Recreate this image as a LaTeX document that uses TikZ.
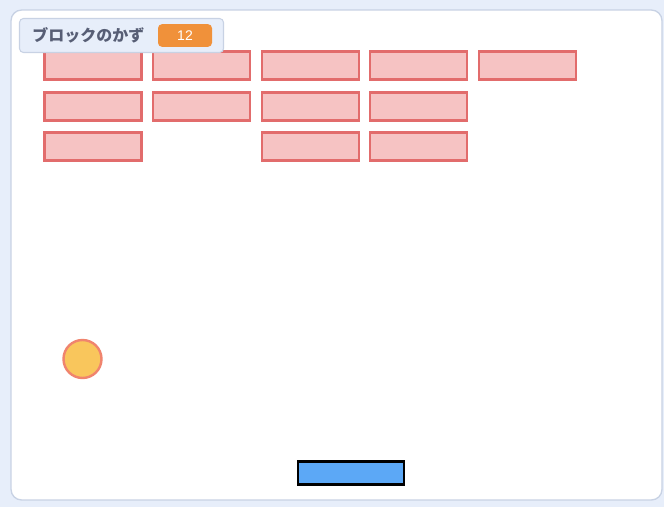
\documentclass[tikz,border=0pt]{standalone}
\usepackage{fontspec}
\setmainfont{Liberation Sans}
\newfontfamily\jpfont{Noto Sans CJK JP}
\usepackage{tikz}
\usetikzlibrary{positioning,calc}
\definecolor{stagebg}{RGB}{231,238,250}
\definecolor{stageline}{RGB}{200,210,228}
\definecolor{brickfill}{RGB}{246,195,195}
\definecolor{brickline}{RGB}{226,108,108}
\definecolor{ballfill}{RGB}{249,198,92}
\definecolor{ballline}{RGB}{240,132,110}
\definecolor{paddlefill}{RGB}{92,168,246}
\definecolor{badge}{RGB}{240,145,58}
\definecolor{labeltext}{RGB}{87,94,117}

\begin{document}
\begin{tikzpicture}[
    x=0.75pt, y=-0.75pt,
    brick/.style={rectangle, draw=brickline, fill=brickfill, line width=1.8pt,
                  minimum width=72.5pt, minimum height=21.2pt, inner sep=0pt},
    ball/.style={circle, draw=ballline, fill=ballfill, line width=1.8pt,
                 minimum size=28.5pt, inner sep=0pt},
    paddle/.style={rectangle, draw=black, fill=paddlefill, line width=1.8pt,
                   minimum width=79.5pt, minimum height=17pt, inner sep=0pt},
    monitor/.style={rectangle, rounded corners=3pt, draw=stageline, fill=stagebg,
                    line width=0.8pt, minimum width=153pt, minimum height=25.5pt},
    counter/.style={rectangle, rounded corners=3pt, fill=badge, text=white,
                    minimum width=40.5pt, minimum height=17pt, inner sep=0pt, font=\fontsize{10.5}{12}\selectfont}
]
    % Stage
    \fill[stagebg] (0,0) rectangle (664,507);
    \useasboundingbox (0,0) rectangle (664,507);
    \draw[stageline, fill=white, line width=1pt, rounded corners=8pt] (11,10) rectangle (662,500);

    % Bricks
    \node[brick] (b11) at (93,65.5) {};
    \node[brick] (b12) at (201.5,65.5) {};
    \node[brick] (b13) at (310.5,65.5) {};
    \node[brick] (b14) at (418.5,65.5) {};
    \node[brick] (b15) at (527.5,65.5) {};

    \node[brick] (b21) at (93,106.5) {};
    \node[brick] (b22) at (201.5,106.5) {};
    \node[brick] (b23) at (310.5,106.5) {};
    \node[brick] (b24) at (418.5,106.5) {};

    \node[brick] (b31) at (93,146.5) {};
    \node[brick] (b33) at (310.5,146.5) {};
    \node[brick] (b34) at (418.5,146.5) {};

    % Variable monitor
    \node[monitor] (mon) at (121.5,35.5) {};
    \node[anchor=west, text=labeltext, font=\jpfont\bfseries\fontsize{12}{14}\selectfont, inner sep=0pt]
        (monlabel) at (32,35.5) {ブロックのかず};
    \node[counter] (count) at (185,35.5) {12};

    % Ball and paddle
    \node[ball] (ball) at (82.5,359) {};
    \node[paddle] (pad) at (351,473) {};
\end{tikzpicture}
\end{document}
